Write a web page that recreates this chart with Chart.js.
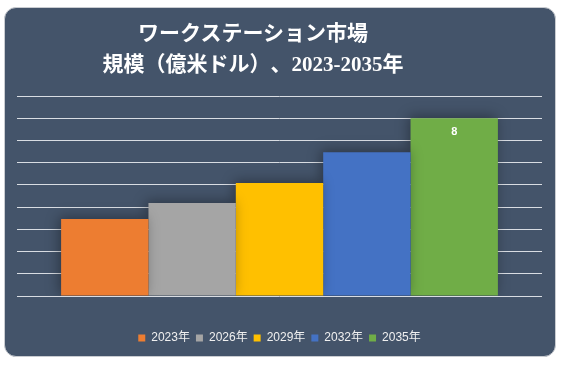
<!DOCTYPE html>
<html>
<head>
<meta charset="utf-8">
<script src="https://cdn.jsdelivr.net/npm/chart.js@4/dist/chart.umd.min.js"></script>
<style>
  html, body { margin: 0; padding: 0; background: #ffffff; }
  body { width: 563px; height: 366px; position: relative; overflow: hidden; }
  .card {
    position: absolute; left: 4px; top: 7px; width: 552px; height: 350px;
    background: #44546A; border-radius: 12px; box-sizing: border-box;
    border: 1px solid #c9ccd1; overflow: hidden;
  }
  .title {
    position: absolute; left: 0; top: 10px; width: 496px; text-align: center;
    color: #ffffff; font-weight: bold; font-size: 21px; line-height: 31px;
    font-family: "Liberation Serif", "Noto Sans CJK JP", serif;
    text-spacing-trim: space-all;
    white-space: nowrap;
  }
  canvas { position: absolute; left: 0; top: 0; }
</style>
</head>
<body>
<div class="card">
  <canvas id="chart" width="552" height="350"></canvas>
  <div class="title">ワークステーション市場<br>規模（億米ドル）、2023-2035年</div>
</div>
<script>
  // 年ごとの市場規模（億米ドル）
  const years = ["2023年", "2026年", "2029年", "2032年", "2035年"];
  const values = [3.46, 4.18, 5.08, 6.47, 8];
  const colors = ["#ED7D31", "#A5A5A5", "#FFC000", "#4472C4", "#70AD47"];
  const labelShown = [false, false, false, false, true];

  // 棒の影
  const barShadow = {
    id: "barShadow",
    beforeDatasetsDraw(chart) {
      const ctx = chart.ctx;
      ctx.save();
      ctx.shadowColor = "rgba(0,0,0,0.35)";
      ctx.shadowBlur = 12;
      ctx.shadowOffsetX = -2;
      ctx.shadowOffsetY = -2;
    },
    afterDatasetsDraw(chart) {
      chart.ctx.restore();
    }
  };

  // 値ラベル（2035年のみ）
  const valueLabels = {
    id: "valueLabels",
    afterDatasetsDraw(chart) {
      const ctx = chart.ctx;
      ctx.save();
      ctx.fillStyle = "#ffffff";
      ctx.font = "bold 11px 'Liberation Sans', sans-serif";
      ctx.textAlign = "center";
      ctx.textBaseline = "middle";
      chart.data.datasets.forEach((ds, i) => {
        if (!labelShown[i]) return;
        const bar = chart.getDatasetMeta(i).data[0];
        ctx.fillText(String(ds.data[0]), bar.x, bar.y + 14);
      });
      ctx.restore();
    }
  };

  new Chart(document.getElementById("chart"), {
    type: "bar",
    data: {
      labels: [""],
      datasets: years.map((y, i) => ({
        label: y,
        data: [values[i]],
        backgroundColor: colors[i],
        borderWidth: 0
      }))
    },
    options: {
      responsive: false,
      animation: false,
      barPercentage: 1,
      categoryPercentage: 0.832,
      layout: { padding: { top: 88, left: 12, right: 15, bottom: 4 } },
      plugins: {
        legend: {
          position: "bottom",
          labels: {
            color: "#f0f0f0",
            boxWidth: 7,
            boxHeight: 7,
            padding: 6,
            font: { size: 12, family: "'Liberation Sans', 'Noto Sans CJK JP', sans-serif" }
          }
        },
        tooltip: { enabled: false },
        title: { display: false }
      },
      scales: {
        x: {
          display: true,
          grid: { display: false },
          border: { display: false },
          ticks: { display: false },
          afterFit: (scale) => { scale.height = 30; }
        },
        y: {
          min: 0, max: 9,
          ticks: { display: false, stepSize: 1 },
          border: { display: false },
          grid: { color: "#d9dde3", lineWidth: 1, drawTicks: false }
        }
      }
    },
    plugins: [barShadow, valueLabels]
  });
</script>
</body>
</html>
